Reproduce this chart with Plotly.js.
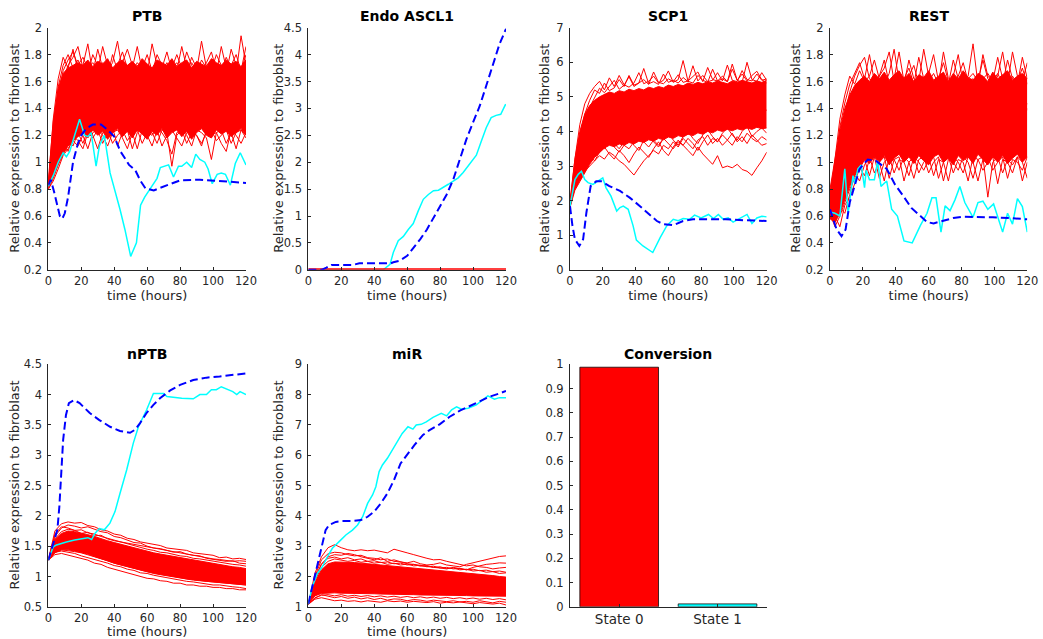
<!DOCTYPE html>
<html><head><meta charset="utf-8">
<script src="https://cdn.plot.ly/plotly-3.0.1.min.js"></script>
<style>html,body{margin:0;padding:0;background:#fff}#chart{width:1043px;height:639px}</style>
</head><body><div id="chart"></div>
<script>
// ---------------- DATA ----------------
const panelTitles = ['PTB','Endo ASCL1','SCP1','REST','nPTB','miR','Conversion'];
const xTitle = 'time (hours)';
const yTitle = 'Relative expression to fibroblast';
const timeTicks = [0,20,40,60,80,100,120];
const ptbTicks = [0.2,0.4,0.6,0.8,1,1.2,1.4,1.6,1.8,2];
const ascTicks = [0,0.5,1,1.5,2,2.5,3,3.5,4,4.5];
const scpTicks = [0,1,2,3,4,5,6,7];
const restTicks = [0.2,0.4,0.6,0.8,1,1.2,1.4,1.6,1.8,2];
const nptbTicks = [0.5,1,1.5,2,2.5,3,3.5,4,4.5];
const mirTicks = [1,2,3,4,5,6,7,8,9];
const convTicks = [0,0.1,0.2,0.3,0.4,0.5,0.6,0.7,0.8,0.9,1];

// time grids of the simulated (red) runs
const T3 = [0,3,6,9,12,15,18,21,24,27,30,33,36,39,42,45,48,51,54,57,60,63,66,69,72,75,78,81,84,87,90,93,96,99,102,105,108,111,114,117,120];
const T4 = [0,4,8,12,16,20,24,28,32,36,40,44,48,52,56,60,64,68,72,76,80,84,88,92,96,100,104,108,112,116,120];

// PTB
const ptbCoreLo = [0.80,0.88,0.98,1.06,1.12,1.16,1.19,1.22,1.18,1.24,1.20,1.23,1.17,1.22,1.25,1.19,1.23,1.18,1.24,1.21,1.17,1.23,1.20,1.25,1.18,1.22,1.24,1.19,1.23,1.17,1.22,1.25,1.20,1.18,1.24,1.21,1.23,1.19,1.22,1.25,1.20];
const ptbCoreHi = [0.86,1.30,1.55,1.66,1.70,1.72,1.74,1.72,1.76,1.71,1.75,1.73,1.77,1.70,1.74,1.76,1.72,1.75,1.71,1.77,1.73,1.70,1.76,1.74,1.72,1.77,1.71,1.74,1.76,1.70,1.75,1.73,1.71,1.77,1.74,1.72,1.76,1.73,1.75,1.71,1.76];
const ptbRuns = [
 [0.84,1.32,1.62,1.78,1.70,1.84,1.68,1.72,1.88,1.66,1.70,1.74,1.64,1.80,1.68,1.72,1.66,1.70,1.86,1.68,1.72,1.66,1.74,1.70,1.82,1.68,1.72,1.66,1.70,1.74,1.68,1.90,1.70,1.66,1.72,1.68,1.78,1.70,1.66,1.94,1.72],
 [0.83,1.25,1.56,1.72,1.80,1.70,1.76,1.68,1.72,1.66,1.84,1.70,1.68,1.74,1.90,1.68,1.72,1.66,1.72,1.70,1.80,1.68,1.72,1.66,1.70,1.76,1.68,1.86,1.70,1.66,1.72,1.68,1.74,1.82,1.68,1.70,1.66,1.84,1.72,1.68,1.80],
 [0.85,1.20,1.50,1.68,1.76,1.82,1.72,1.78,1.70,1.74,1.68,1.86,1.72,1.66,1.72,1.82,1.70,1.68,1.74,1.70,1.66,1.88,1.72,1.68,1.74,1.70,1.80,1.70,1.66,1.78,1.70,1.68,1.72,1.76,1.66,1.86,1.70,1.68,1.74,1.70,1.76],
 [0.82,1.18,1.44,1.62,1.72,1.78,1.86,1.70,1.66,1.80,1.72,1.68,1.76,1.70,1.66,1.74,1.84,1.72,1.68,1.76,1.70,1.66,1.80,1.72,1.68,1.70,1.74,1.68,1.82,1.72,1.66,1.76,1.70,1.68,1.80,1.72,1.68,1.72,1.80,1.68,1.86],
 [0.80,0.86,0.95,1.05,1.10,1.16,1.12,1.20,1.10,1.22,1.24,1.14,1.22,1.26,1.12,1.22,1.24,1.10,1.22,1.26,1.20,1.12,1.24,1.22,1.16,1.06,1.22,1.24,1.20,1.12,1.24,1.22,1.18,1.02,1.22,1.24,1.14,1.22,1.10,1.24,1.20],
 [0.81,0.90,1.00,1.08,1.16,1.12,1.22,1.14,1.24,1.20,1.10,1.22,1.24,1.14,1.20,1.24,1.16,1.22,1.10,1.24,1.20,1.22,1.14,1.24,1.22,0.97,1.20,1.24,1.14,1.22,1.20,1.12,1.24,1.20,1.22,1.14,1.08,1.24,1.20,1.14,1.22],
 [0.82,0.94,1.04,1.12,1.08,1.20,1.16,1.10,1.22,1.18,1.24,1.20,1.12,1.22,1.24,1.18,1.10,1.22,1.24,1.14,1.22,1.20,1.24,1.12,1.20,1.24,1.18,1.12,1.22,1.24,1.20,1.14,1.22,1.24,1.16,1.20,1.24,1.14,1.22,1.24,1.18],
 [0.81,1.08,1.30,1.45,1.55,1.40,1.62,1.36,1.58,1.44,1.66,1.38,1.52,1.30,1.60,1.46,1.35,1.62,1.42,1.56,1.32,1.58,1.48,1.36,1.64,1.40,1.54,1.34,1.60,1.44,1.52,1.36,1.62,1.46,1.38,1.58,1.42,1.60,1.36,1.52,1.48]
];
const ptbCyanT = [0,3,6,9,11,13,16,19,22,24,26,29,31,34,37.5,40.5,43.5,46.5,50,53.5,56,58.5,61,64,66,68,71,73,76,79,81,84,87,89.5,92,95,97,99.5,102.5,105,107.5,110.5,113.5,116.5,120];
const ptbCyanY = [0.82,0.9,1.0,1.07,1.04,1.08,1.2,1.32,1.2,1.19,1.22,0.97,1.12,1.2,0.92,0.79,0.65,0.5,0.3,0.4,0.68,0.74,0.79,0.85,0.88,0.96,0.97,0.98,0.89,0.97,0.97,1.0,0.96,1.06,1.02,1.0,0.95,0.84,0.91,0.92,0.91,0.83,0.99,1.07,0.98];
const ptbBlueT = [0,1.5,3.5,5,7,8.5,10,12,13.5,15,18,20,23,27,32,36,40,43.8,46.5,49,52.8,56,59,64,68,72,80,92,102,112,120];
const ptbBlueY = [0.83,0.87,0.78,0.7,0.6,0.58,0.62,0.74,0.88,1.0,1.14,1.2,1.25,1.28,1.28,1.24,1.19,1.08,1.03,0.98,0.94,0.86,0.805,0.79,0.81,0.83,0.865,0.87,0.86,0.85,0.846];

// Endo ASCL1
const ascRedT = [0,120];
const ascRedY = [0,0];
const ascCyanT = [0,45.5,49.6,51.6,54.6,57.7,60.7,63.7,66.8,69.8,72.9,76,79,82,85,88,91,94,97,102,105,108,111,114,116.8,119.8];
const ascCyanY = [0,0,0.1,0.32,0.54,0.62,0.75,0.86,1.1,1.31,1.4,1.47,1.48,1.53,1.59,1.65,1.71,1.81,1.93,2.13,2.39,2.64,2.83,2.87,2.89,3.08];
const ascBlueT = [0,8,11,14,17,27,31,50,51.6,55.6,60,64,68,72,76,80,84,88,92,96,100,104,108,112,116,120];
const ascBlueY = [0,0,0.04,0.09,0.09,0.09,0.12,0.12,0.14,0.17,0.26,0.41,0.57,0.75,0.97,1.19,1.4,1.68,2.05,2.43,2.74,3.04,3.42,3.79,4.19,4.48];

// SCP1
const scpCoreLo = [1.80,2.30,2.55,2.80,3.05,3.25,3.40,3.52,3.60,3.56,3.64,3.60,3.68,3.64,3.72,3.68,3.76,3.72,3.80,3.76,3.84,3.80,3.88,3.84,3.92,3.88,3.96,3.92,4.00,3.96,4.04,4.00,4.06,4.02,4.08,4.04,4.10,4.06,4.12,4.08,4.10];
const scpCoreHi = [2.00,3.20,4.00,4.50,4.75,4.90,5.00,5.08,5.14,5.10,5.18,5.14,5.22,5.18,5.24,5.20,5.28,5.24,5.30,5.26,5.34,5.30,5.36,5.32,5.40,5.36,5.42,5.38,5.44,5.40,5.46,5.42,5.38,5.46,5.42,5.48,5.44,5.40,5.46,5.42,5.48];
const scpRuns = [
 [1.90,3.20,4.20,4.80,5.10,5.30,5.45,5.20,5.55,5.30,5.62,5.35,5.28,5.40,5.70,5.38,5.45,5.60,5.40,5.48,5.75,5.42,5.50,6.05,5.45,5.40,5.62,5.48,5.42,5.80,5.46,5.52,5.44,5.95,5.48,5.42,6.00,5.50,5.45,5.70,5.48],
 [1.88,3.00,3.90,4.50,4.90,5.20,5.10,5.40,5.18,5.26,5.50,5.30,5.62,5.34,5.40,5.82,5.38,5.44,5.36,5.66,5.42,5.48,5.40,5.56,5.44,5.90,5.46,5.62,5.44,5.48,5.70,5.46,5.92,5.48,5.44,5.76,5.50,5.46,5.66,5.48,5.52],
 [1.92,2.90,3.70,4.30,4.70,5.00,5.25,5.12,5.30,5.48,5.22,5.34,5.58,5.30,5.40,5.50,5.36,5.72,5.42,5.38,5.52,5.44,5.64,5.42,5.46,5.58,5.72,5.44,5.85,5.50,5.46,5.60,5.44,5.80,5.48,5.66,5.46,5.62,5.74,5.50,5.40],
 [1.85,2.45,2.70,2.85,3.00,3.15,3.30,3.20,3.40,3.30,3.15,3.05,2.90,2.74,2.95,3.15,3.30,3.45,3.35,3.60,3.50,3.70,3.55,3.80,3.65,3.50,3.75,3.85,3.60,3.80,3.70,3.90,3.75,3.60,3.85,3.70,3.95,3.80,3.70,3.85,3.75],
 [1.82,2.40,2.65,2.95,3.25,3.45,3.60,3.50,3.70,3.55,3.40,3.60,3.50,3.70,3.85,3.70,3.55,3.75,3.60,3.80,3.65,3.50,3.70,3.60,3.45,3.30,3.55,3.35,3.20,3.05,3.30,2.95,3.00,2.95,3.05,2.90,2.85,2.73,2.95,3.15,3.40],
 [1.86,2.60,2.85,3.10,3.30,3.15,3.40,3.55,3.35,3.20,3.45,3.30,3.10,3.35,3.55,3.40,3.25,3.50,3.70,3.45,3.30,3.55,3.75,3.60,3.80,3.65,3.45,3.70,3.90,3.65,3.80,3.60,3.75,3.95,3.70,3.85,3.65,3.90,3.75,3.60,3.65],
 [1.84,2.55,2.90,3.20,3.45,3.60,3.70,3.55,3.80,3.65,3.50,3.70,3.85,3.60,3.45,3.75,3.90,3.70,3.55,3.80,3.95,3.75,3.60,3.85,4.00,3.80,3.65,3.90,4.05,3.85,3.70,3.95,4.10,3.90,3.75,4.00,4.15,3.85,4.00,4.10,3.95],
 [1.88,2.80,3.50,4.00,4.30,4.10,4.50,4.30,4.70,4.45,4.20,4.60,4.40,4.80,4.55,4.35,4.70,4.50,4.85,4.60,4.40,4.75,4.55,4.90,4.65,4.45,4.80,4.60,4.95,4.70,4.50,4.85,4.65,5.00,4.75,4.55,4.90,4.70,5.05,4.80,4.60]
];
const scpCyanT = [0,3,5,7,9,11,14,17,20,22,25,28.5,30.5,32.5,35.5,38.5,40.5,44.5,50.5,55,59,63,66,69,73,76,80,84.5,87.5,90.5,93.5,96.5,99.5,102.5,108,111,114,117,120];
const scpCyanY = [1.84,2.61,2.76,2.85,2.61,2.52,2.47,2.56,2.66,2.37,2.13,1.7,1.8,1.84,1.75,1.27,0.86,0.69,0.5,0.93,1.27,1.46,1.42,1.48,1.46,1.58,1.5,1.6,1.48,1.6,1.46,1.5,1.38,1.46,1.6,1.34,1.5,1.55,1.53];
const scpBlueT = [0,1.5,3,5.7,8,10,12.6,16,19,24,30.5,36.6,42.7,48.8,53,57,63,69,75,83,95,108,120];
const scpBlueY = [1.84,1.27,0.88,0.69,0.88,1.65,2.42,2.56,2.56,2.42,2.28,2.08,1.84,1.6,1.41,1.32,1.29,1.41,1.46,1.46,1.46,1.43,1.41];

// REST
const restCoreLo = [0.58,0.55,0.62,0.72,0.82,0.90,0.96,1.02,0.99,1.04,1.00,1.05,0.98,1.03,1.06,1.00,1.04,0.99,1.05,1.01,0.98,1.04,1.06,1.00,1.03,0.98,1.05,1.01,1.04,0.99,1.06,1.02,0.98,1.04,1.00,1.05,0.99,1.03,1.06,1.00,1.04];
const restCoreHi = [0.80,1.02,1.24,1.40,1.50,1.57,1.61,1.64,1.60,1.66,1.62,1.67,1.61,1.65,1.68,1.62,1.66,1.60,1.65,1.63,1.68,1.61,1.64,1.67,1.60,1.66,1.62,1.68,1.63,1.61,1.66,1.64,1.60,1.67,1.62,1.65,1.68,1.61,1.64,1.66,1.62];
const restRuns = [
 [0.70,0.95,1.26,1.44,1.58,1.66,1.74,1.62,1.80,1.60,1.64,1.76,1.58,1.62,1.82,1.60,1.64,1.72,1.58,1.62,1.66,1.80,1.60,1.64,1.58,1.76,1.62,1.60,1.64,1.88,1.58,1.62,1.66,1.60,1.78,1.62,1.58,1.82,1.64,1.60,1.74],
 [0.66,0.88,1.16,1.36,1.52,1.64,1.72,1.78,1.62,1.58,1.64,1.70,1.82,1.60,1.64,1.58,1.76,1.62,1.60,1.84,1.64,1.58,1.62,1.74,1.60,1.64,1.80,1.58,1.62,1.66,1.60,1.76,1.62,1.58,1.64,1.82,1.60,1.64,1.58,1.78,1.62],
 [0.72,1.02,1.32,1.50,1.64,1.58,1.68,1.60,1.64,1.76,1.62,1.58,1.66,1.84,1.60,1.62,1.70,1.58,1.78,1.62,1.60,1.66,1.58,1.82,1.62,1.58,1.64,1.74,1.60,1.62,1.58,1.80,1.64,1.60,1.66,1.58,1.76,1.62,1.60,1.70,1.58],
 [0.62,0.52,0.60,0.70,0.80,0.88,0.95,1.02,0.90,1.04,1.00,0.86,1.04,1.02,0.94,1.04,1.00,0.88,1.02,1.04,0.92,1.00,1.04,0.86,1.02,1.00,0.94,1.04,1.00,0.88,1.02,1.04,0.74,1.00,1.04,0.92,1.02,0.98,1.04,0.86,1.00],
 [0.60,0.56,0.66,0.62,0.76,0.92,0.86,0.98,1.04,0.92,1.00,1.04,0.88,1.02,1.04,0.86,1.00,1.04,0.92,1.00,1.04,0.90,1.02,1.00,0.86,1.04,1.00,0.92,1.04,1.00,0.86,1.02,1.04,0.94,1.00,1.04,0.88,1.02,1.00,0.94,1.04],
 [0.64,0.60,0.52,0.68,0.74,0.84,0.96,0.90,1.02,1.04,0.88,1.00,1.04,0.92,1.02,1.00,0.90,1.04,1.00,0.94,1.02,1.04,0.88,1.00,1.04,0.92,1.02,1.00,0.86,1.04,1.02,0.94,1.00,1.04,0.84,1.02,1.00,0.92,1.04,1.00,0.88],
 [0.68,0.80,1.05,1.22,1.40,1.20,1.48,1.30,1.55,1.18,1.42,1.28,1.50,1.22,1.46,1.32,1.56,1.20,1.40,1.50,1.26,1.44,1.30,1.54,1.18,1.40,1.52,1.24,1.46,1.34,1.56,1.22,1.42,1.30,1.50,1.20,1.44,1.36,1.52,1.26,1.40],
 [0.75,0.62,0.85,1.10,1.30,1.45,1.35,1.52,1.25,1.45,1.12,1.38,1.55,1.28,1.40,1.16,1.36,1.48,1.30,1.14,1.42,1.34,1.50,1.24,1.38,1.46,1.20,1.36,1.50,1.26,1.12,1.40,1.30,1.48,1.24,1.36,1.50,1.22,1.40,1.32,1.44]
];
const restCyanT = [0,3,6,9,11,14,15,17,19,21,22,24,27,29,31,34.5,37.5,41,45,50,55,59,62,64.5,67.5,70,73,76,79,82,87,90,93,96,99.5,105,108,111,114,117,120];
const restCyanY = [0.63,0.62,0.6,0.95,0.62,0.9,0.84,0.95,0.98,0.81,0.94,0.87,0.87,1.01,0.82,0.86,0.65,0.6,0.415,0.4,0.53,0.62,0.735,0.735,0.48,0.675,0.64,0.72,0.82,0.7,0.59,0.7,0.71,0.65,0.69,0.48,0.62,0.54,0.73,0.67,0.48];
const restBlueT = [0,2,4,7,9.5,12,15,18,23,28,34.5,39.5,44.5,49.5,55,59,63,69,75,81,91,99,111.5,120];
const restBlueY = [0.65,0.58,0.5,0.45,0.5,0.7,0.83,0.95,1.02,1.01,0.95,0.835,0.75,0.66,0.6,0.555,0.545,0.565,0.585,0.595,0.595,0.59,0.583,0.575];

// nPTB
const nptbCoreLo = [1.27,1.39,1.44,1.44,1.42,1.40,1.37,1.33,1.29,1.25,1.22,1.19,1.16,1.13,1.10,1.08,1.05,1.03,1.01,0.99,0.97,0.96,0.94,0.93,0.92,0.91,0.90,0.89,0.88,0.87,0.86];
const nptbCoreHi = [1.27,1.61,1.71,1.75,1.74,1.72,1.69,1.66,1.62,1.59,1.56,1.53,1.50,1.47,1.44,1.42,1.39,1.37,1.35,1.33,1.31,1.29,1.27,1.25,1.23,1.22,1.20,1.18,1.16,1.15,1.13];
const nptbRuns = [
 [1.27,1.75,1.87,1.90,1.88,1.89,1.84,1.82,1.77,1.75,1.70,1.68,1.63,1.61,1.57,1.55,1.52,1.51,1.47,1.46,1.44,1.43,1.39,1.38,1.36,1.35,1.31,1.32,1.29,1.30,1.28],
 [1.27,1.66,1.80,1.85,1.83,1.80,1.82,1.78,1.74,1.72,1.66,1.64,1.60,1.56,1.55,1.50,1.47,1.46,1.43,1.40,1.41,1.37,1.35,1.34,1.30,1.28,1.27,1.25,1.26,1.22,1.21],
 [1.27,1.62,1.74,1.78,1.76,1.77,1.72,1.70,1.66,1.63,1.60,1.56,1.54,1.50,1.48,1.45,1.43,1.40,1.39,1.36,1.34,1.33,1.30,1.29,1.27,1.25,1.24,1.22,1.20,1.19,1.17],
 [1.27,1.70,1.82,1.80,1.76,1.71,1.73,1.67,1.68,1.62,1.59,1.57,1.55,1.53,1.50,1.49,1.46,1.45,1.42,1.41,1.38,1.36,1.35,1.32,1.31,1.29,1.28,1.27,1.25,1.26,1.25],
 [1.27,1.36,1.38,1.35,1.33,1.29,1.27,1.22,1.20,1.15,1.12,1.08,1.06,1.02,1.00,0.97,0.96,0.93,0.92,0.89,0.89,0.86,0.86,0.84,0.84,0.82,0.82,0.80,0.80,0.78,0.78],
 [1.27,1.40,1.42,1.40,1.38,1.34,1.31,1.29,1.25,1.22,1.18,1.16,1.12,1.10,1.06,1.05,1.02,1.00,0.98,0.95,0.94,0.92,0.91,0.89,0.88,0.86,0.86,0.84,0.83,0.82,0.80],
 [1.27,1.40,1.44,1.43,1.41,1.39,1.36,1.33,1.29,1.26,1.22,1.19,1.16,1.13,1.11,1.08,1.06,1.04,1.02,0.99,0.98,0.96,0.95,0.93,0.92,0.91,0.90,0.88,0.88,0.86,0.86]
];
const nptbCyanT = [0,3,5,8,11,16,21,24,26.3,28.3,31,34,37.4,40.5,43.5,47.6,51.6,54.7,59.7,63.8,70,72,81,88,92,96,99,102,105,108,112,114.4,116.4,120];
const nptbCyanY = [1.27,1.49,1.52,1.55,1.57,1.6,1.63,1.64,1.61,1.71,1.79,1.77,1.88,2.07,2.37,2.76,3.2,3.47,3.75,4.02,4.02,3.97,3.94,3.93,4.0,4.0,4.08,4.08,4.13,4.09,4.05,4.0,4.05,4.0];
const nptbBlueT = [0,2,4,5.5,6.7,7.7,9,10.7,12.5,15.6,19,25,31,37.5,43.5,49.6,52.6,55.7,59.7,63.8,67.8,74,80,88,96,104,112,120];
const nptbBlueY = [1.27,1.46,1.66,1.77,2.15,2.65,3.25,3.66,3.86,3.91,3.86,3.7,3.58,3.47,3.4,3.37,3.42,3.53,3.7,3.83,3.94,4.07,4.16,4.24,4.28,4.3,4.32,4.35];

// miR
const mirCoreLo = [1.08,1.36,1.44,1.46,1.46,1.45,1.45,1.44,1.44,1.43,1.43,1.42,1.42,1.41,1.41,1.40,1.40,1.39,1.39,1.38,1.38,1.38,1.37,1.37,1.37,1.36,1.36,1.36,1.35,1.35,1.35];
const mirCoreHi = [1.08,1.80,2.22,2.42,2.48,2.48,2.48,2.46,2.44,2.43,2.40,2.38,2.36,2.34,2.32,2.30,2.28,2.26,2.24,2.23,2.21,2.19,2.17,2.15,2.13,2.11,2.08,2.06,2.03,2.00,1.98];
const mirRuns = [
 [1.08,2.10,2.65,2.95,3.05,2.95,2.88,2.85,2.88,2.85,2.87,2.82,2.78,2.90,2.85,2.78,2.72,2.65,2.60,2.55,2.56,2.50,2.45,2.40,2.35,2.38,2.32,2.30,2.25,2.28,2.30],
 [1.08,2.00,2.55,2.75,2.80,2.78,2.72,2.68,2.70,2.62,2.60,2.55,2.58,2.50,2.48,2.45,2.50,2.42,2.38,2.40,2.45,2.38,2.35,2.32,2.40,2.45,2.50,2.55,2.60,2.66,2.68],
 [1.08,1.95,2.40,2.65,2.72,2.70,2.76,2.72,2.65,2.60,2.55,2.62,2.50,2.55,2.48,2.42,2.40,2.36,2.32,2.30,2.28,2.25,2.30,2.26,2.22,2.30,2.35,2.40,2.42,2.45,2.44],
 [1.08,1.90,2.42,2.60,2.64,2.58,2.62,2.55,2.58,2.50,2.52,2.46,2.48,2.42,2.44,2.38,2.40,2.34,2.36,2.30,2.32,2.26,2.28,2.22,2.24,2.18,2.20,2.14,2.16,2.10,2.12],
 [1.08,1.85,2.30,2.50,2.58,2.54,2.50,2.53,2.47,2.50,2.44,2.47,2.40,2.44,2.38,2.41,2.35,2.37,2.32,2.34,2.28,2.30,2.25,2.27,2.22,2.24,2.19,2.21,2.16,2.18,2.14],
 [1.08,1.30,1.38,1.40,1.36,1.40,1.35,1.38,1.34,1.37,1.33,1.36,1.32,1.35,1.31,1.34,1.30,1.33,1.29,1.32,1.28,1.31,1.27,1.30,1.26,1.29,1.25,1.28,1.24,1.27,1.23],
 [1.08,1.25,1.30,1.24,1.20,1.22,1.18,1.20,1.16,1.20,1.18,1.15,1.20,1.17,1.19,1.15,1.18,1.16,1.14,1.17,1.12,1.15,1.13,1.16,1.12,1.10,1.14,1.12,1.09,1.12,1.06],
 [1.08,1.28,1.40,1.36,1.30,1.34,1.28,1.32,1.26,1.30,1.24,1.28,1.22,1.26,1.25,1.20,1.24,1.22,1.18,1.22,1.20,1.17,1.20,1.16,1.18,1.15,1.20,1.16,1.13,1.18,1.15]
];
const mirCyanT = [0,2.4,5.5,8.5,11.6,14.6,18.7,22.8,26.8,29.9,33,36,39,41,43,45,48,51,54,57,60.5,63.5,65.5,68.5,71.6,75.7,80.7,84,87,90,93,97,102,106,109,113,116,120];
const mirCyanY = [1.08,1.66,2.1,2.32,2.65,2.93,3.15,3.37,3.53,3.7,3.97,4.41,4.69,4.96,5.46,5.68,5.9,6.17,6.45,6.72,6.94,6.86,7.0,7.02,7.1,7.25,7.38,7.3,7.5,7.6,7.52,7.55,7.66,7.85,7.96,7.85,7.9,7.9];
const mirBlueT = [0,2.4,4.5,6.5,8.5,10.5,12.6,16.7,20.7,26.8,32,36,40,44,48,52,56,60.4,64.5,69.6,73.6,79.7,85.8,92,98,104,110,116,120];
const mirBlueY = [1.1,1.66,2.1,2.54,3.09,3.53,3.7,3.8,3.83,3.83,3.86,3.97,4.14,4.41,4.74,5.18,5.73,6.06,6.34,6.67,6.83,7.02,7.27,7.47,7.62,7.77,7.93,8.04,8.12];

// Conversion
const stateLabels = ['State 0','State 1'];
const stateValues = [0.988, 0.012];

// ---------------- STYLE / LAYOUT ----------------
const FONT = '"DejaVu Sans", "Liberation Sans", sans-serif';
const TXT = '#262626';
const RED = '#ff0000', CYAN = '#00ffff', BLUE = '#0000ff';
const W = 1043, H = 639;
const colPx = [[48.3,246],[308.3,506],[570,766.7],[830,1027.3]];
const rowPx = [[27.7,269.8],[364.3,606.8]];
const yLabelPx = [15, 279, 545, 796];
const xdom = c => [colPx[c][0]/W, colPx[c][1]/W];
const ydom = r => [1-rowPx[r][1]/H, 1-rowPx[r][0]/H];
const titleY = [1-16.3/H, 1-353.5/H];

const traces = [];
const ids = n => n===1 ? ['x','y'] : ['x'+n,'y'+n];
function ln(n, x, y, color, width, dash) {
  const [xa, ya] = ids(n);
  return {type:'scatter', mode:'lines', x:x, y:y, xaxis:xa, yaxis:ya,
    line:{color:color, width:width, dash:dash||'solid'}, hoverinfo:'skip', showlegend:false};
}
function band(n, t, lo, hi) {
  traces.push(ln(n, t, lo, RED, 1));
  const h = ln(n, t, hi, RED, 1); h.fill = 'tonexty'; h.fillcolor = RED; traces.push(h);
}
const DASH = '8px,4px';
function simPanel(n, t, lo, hi, runs, cT, cY, bT, bY) {
  band(n, t, lo, hi);
  runs.forEach(r => traces.push(ln(n, t, r, RED, 1)));
  traces.push(ln(n, cT, cY, CYAN, 1.5));
  traces.push(ln(n, bT, bY, BLUE, 2, DASH));
}
simPanel(1, T3, ptbCoreLo, ptbCoreHi, ptbRuns, ptbCyanT, ptbCyanY, ptbBlueT, ptbBlueY);
// Endo ASCL1
traces.push(ln(2, ascCyanT, ascCyanY, CYAN, 1.5));
traces.push(ln(2, ascRedT, ascRedY, RED, 3));
traces.push(ln(2, ascBlueT, ascBlueY, BLUE, 2, DASH));
simPanel(3, T3, scpCoreLo, scpCoreHi, scpRuns, scpCyanT, scpCyanY, scpBlueT, scpBlueY);
simPanel(4, T3, restCoreLo, restCoreHi, restRuns, restCyanT, restCyanY, restBlueT, restBlueY);
simPanel(5, T4, nptbCoreLo, nptbCoreHi, nptbRuns, nptbCyanT, nptbCyanY, nptbBlueT, nptbBlueY);
simPanel(6, T4, mirCoreLo, mirCoreHi, mirRuns, mirCyanT, mirCyanY, mirBlueT, mirBlueY);
traces.push({type:'bar', x:stateLabels, y:stateValues, xaxis:'x7', yaxis:'y7', width:0.8,
  marker:{color:[RED, CYAN], line:{color:'#000', width:0.75}}, hoverinfo:'skip', showlegend:false});

const common = {showline:true, linecolor:TXT, linewidth:1, ticks:'inside', ticklen:3, tickwidth:1,
  tickcolor:TXT, showgrid:false, zeroline:false, automargin:false, fixedrange:true,
  tickfont:{family:FONT, size:11.5, color:TXT}};
const labFont = {family:FONT, size:13, color:TXT};

const panels = [
  {c:0,r:0,yr:[0.2,2],tk:ptbTicks},
  {c:1,r:0,yr:[0,4.5],tk:ascTicks},
  {c:2,r:0,yr:[0,7],tk:scpTicks},
  {c:3,r:0,yr:[0.2,2],tk:restTicks},
  {c:0,r:1,yr:[0.5,4.5],tk:nptbTicks},
  {c:1,r:1,yr:[1,9],tk:mirTicks},
  {c:2,r:1,yr:[0,1],tk:convTicks}
];
const layout = {width:W, height:H, margin:{l:0,r:0,t:0,b:0}, paper_bgcolor:'#ffffff',
  plot_bgcolor:'rgba(0,0,0,0)', showlegend:false, hovermode:false,
  font:{family:FONT, size:12, color:TXT}, annotations:[]};
panels.forEach((p, i) => {
  const n = i+1, [xa, ya] = ids(n);
  const xk = 'xaxis' + (n===1?'':n), yk = 'yaxis' + (n===1?'':n);
  const dx = xdom(p.c), dy = ydom(p.r);
  if (n < 7) {
    layout[xk] = Object.assign({}, common, {domain:dx, anchor:ya, range:[0,120], tickvals:timeTicks,
      title:{text:xTitle, font:labFont, standoff:3}});
    layout[yk] = Object.assign({}, common, {domain:dy, anchor:xa, range:p.yr, tickvals:p.tk,
      ticklabelstandoff:3});
    layout.annotations.push({text:yTitle, xref:'paper', yref:'paper', x:yLabelPx[p.c]/W, y:(dy[0]+dy[1])/2,
      textangle:-90, xanchor:'center', yanchor:'middle', showarrow:false, font:labFont});
  } else {
    layout[xk] = Object.assign({}, common, {domain:dx, anchor:ya, type:'category', range:[-0.5,1.5],
      tickfont:{family:FONT, size:13.5, color:TXT}});
    layout[yk] = Object.assign({}, common, {domain:dy, anchor:xa, range:p.yr, tickvals:p.tk,
      ticklabelstandoff:3});
  }
  layout.annotations.push({text:panelTitles[i], xref:'paper', yref:'paper', x:(dx[0]+dx[1])/2, y:titleY[p.r],
    xanchor:'center', yanchor:'middle', showarrow:false,
    font:{family:FONT, size:14, color:'#000', weight:'bold'}});
});

Plotly.newPlot('chart', traces, layout, {displayModeBar:false, staticPlot:true});
</script>
</body></html>
